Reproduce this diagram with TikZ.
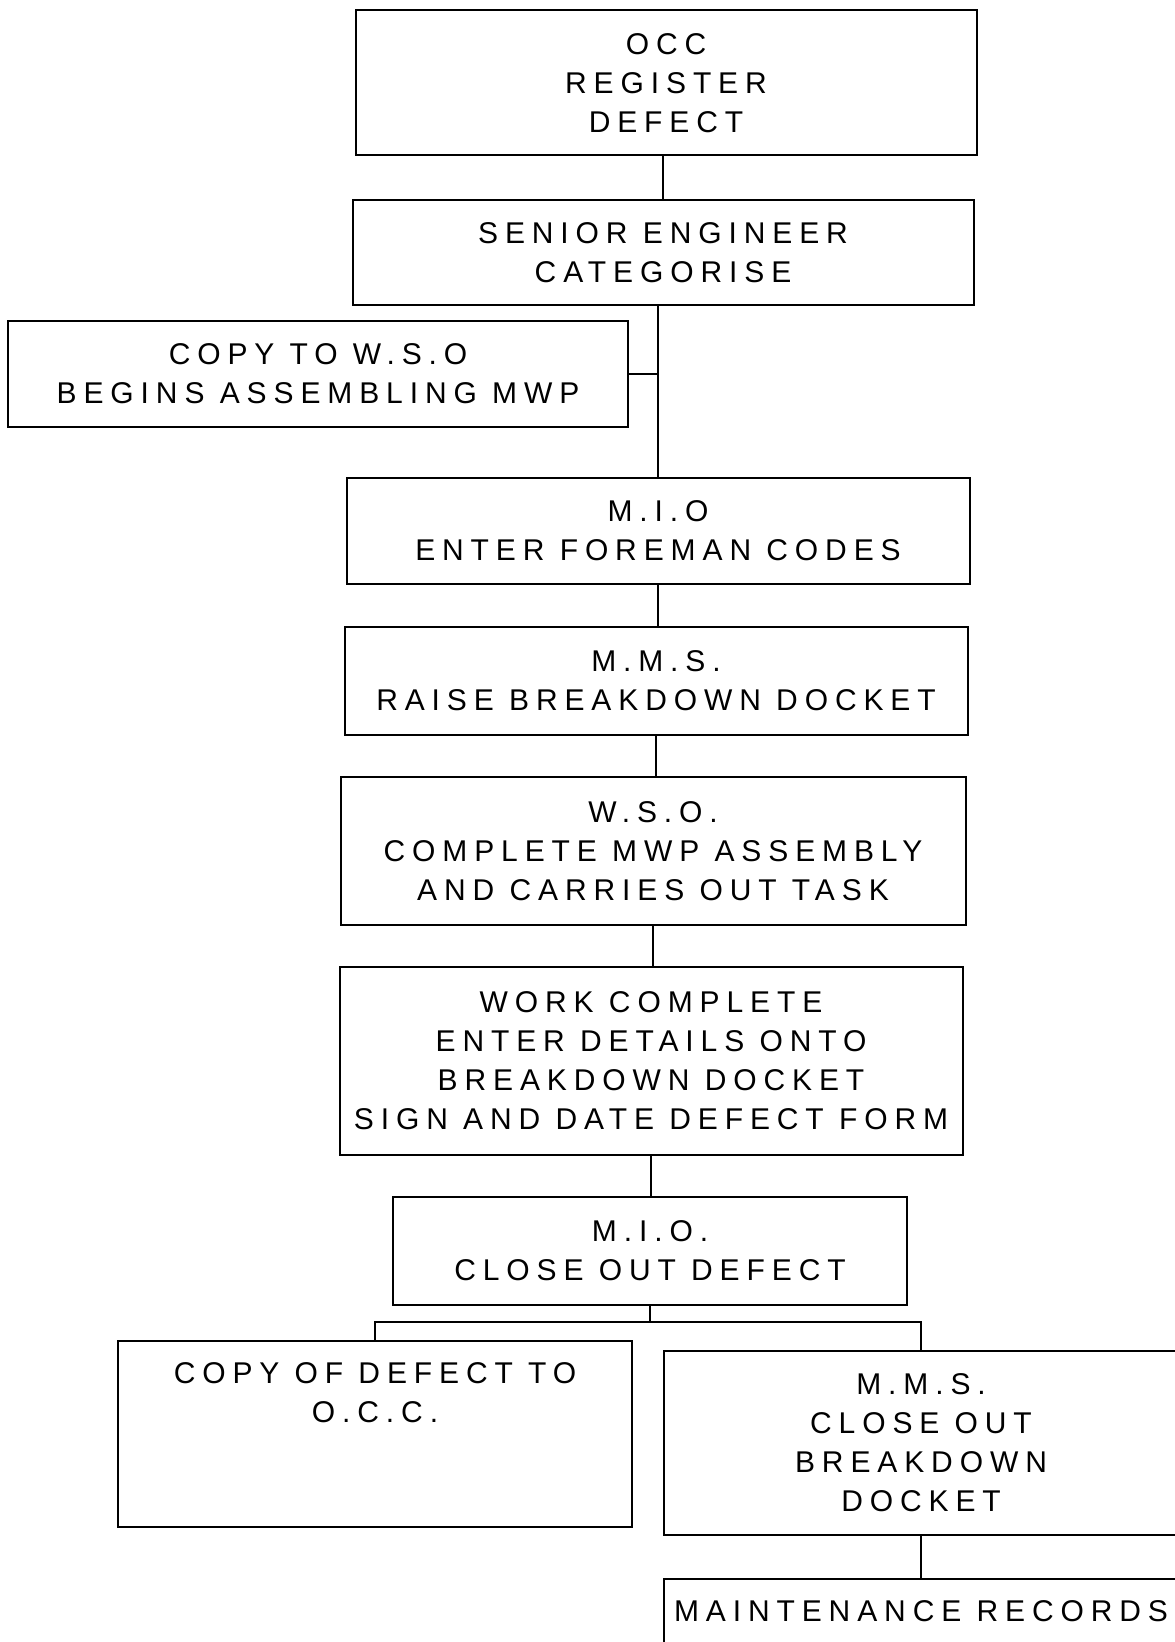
\documentclass[tikz,border=0pt]{standalone}
\usepackage{fontspec}
\setmainfont{Liberation Sans}[LetterSpace=23]
\usepackage{tikz}
\usetikzlibrary{positioning}

\begin{document}
\begin{tikzpicture}[x=0.5pt, y=-0.5pt,
  box/.style={draw, line width=1pt, rectangle, align=center, inner sep=0pt,
    font=\fontsize{15}{19.5}\selectfont},
  link/.style={line width=1.4pt}]
\useasboundingbox (0,0) rectangle (1174,1642);
% -- main column --
\node[box, minimum width=310.5pt, minimum height=72.5pt] (occ) at (666,83) {OCC\\REGISTER\\DEFECT};
\node[box, minimum width=310.5pt, minimum height=52.5pt] (seng) at (663,253) {SENIOR ENGINEER\\CATEGORISE};
\node[box, minimum width=310pt, minimum height=52.5pt] (copy) at (318,374) {COPY TO W.S.O\\BEGINS ASSEMBLING MWP};
\node[box, minimum width=311.5pt, minimum height=53pt] (mio) at (658,531) {M.I.O\\ENTER FOREMAN CODES};
\node[box, minimum width=311.5pt, minimum height=54pt] (mms) at (656,681) {M.M.S.\\RAISE BREAKDOWN DOCKET};
\node[box, minimum width=312.5pt, minimum height=74pt] (wso) at (653,851) {W.S.O.\\COMPLETE MWP ASSEMBLY\\AND CARRIES OUT TASK};
\node[box, minimum width=311.5pt, minimum height=94pt] (work) at (651,1061) {WORK COMPLETE\\ENTER DETAILS ONTO\\BREAKDOWN DOCKET\\SIGN AND DATE DEFECT FORM};
\node[box, minimum width=257pt, minimum height=54pt] (close) at (650,1251) {M.I.O.\\CLOSE OUT DEFECT};
% -- bottom split --
\node[box, minimum width=257pt, minimum height=93pt] (copyocc) at (375,1434) {COPY OF DEFECT TO\\O.C.C.\\[22pt]};
\node[box, minimum width=257pt, minimum height=92pt] (mmsclose) at (921,1443) {M.M.S.\\CLOSE OUT\\BREAKDOWN\\DOCKET};
\node[box, minimum width=257pt, minimum height=32pt] (records) at (921,1611) {MAINTENANCE RECORDS};
\coordinate (split) at (650,1322);
% -- connectors --
\draw[link] (seng.north) -- (seng.north |- occ.south);
\draw[link] (mio.north) -- (mio.north |- seng.south);
\draw[link] (copy.east) -- (copy.east -| mio.north);
\draw[link] (mio.south) -- (mio.south |- mms.north);
\draw[link] (mms.south) -- (mms.south |- wso.north);
\draw[link] (wso.south) -- (wso.south |- work.north);
\draw[link] (work.south) -- (work.south |- close.north);
\draw[link] (close.south) -- (split);
\draw[link] (copyocc.north) |- (split) -| (mmsclose.north);
\draw[link] (mmsclose.south) -- (records.north);
\end{tikzpicture}
\end{document}
